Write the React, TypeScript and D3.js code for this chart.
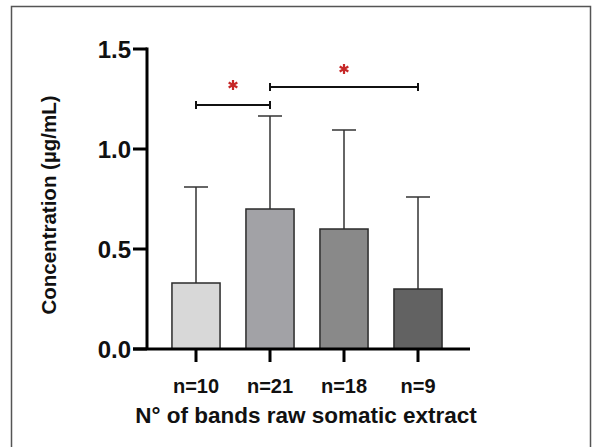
import React from 'react';
import * as d3 from 'd3';

// data
const groups = ['n=10', 'n=21', 'n=18', 'n=9'];
const means = [0.33, 0.70, 0.60, 0.30];
const upperSD = [0.81, 1.165, 1.095, 0.76];
const barFills = ['#d8d8d8', '#a2a2a6', '#898989', '#626262'];
const yTicks = [0, 0.5, 1.0, 1.5];
const bracketFrom = [0, 1];
const bracketTo = [1, 3];
const bracketLevel = [1.22, 1.31];
const starLevel = [1.32, 1.40];

const W = 592, H = 447;
const FONT = 'Liberation Sans, Arial, Helvetica, sans-serif';

const App = () => {
  // scales
  const x = d3.scaleBand<string>()
    .domain(groups)
    .range([159, 455])
    .paddingInner(0.35)
    .paddingOuter(0.175);
  const y = d3.scaleLinear().domain([0, 1.5]).range([349, 49]);

  const cx = (i: number) => (x(groups[i]) as number) + x.bandwidth() / 2;
  const capHalf = x.bandwidth() / 4;
  const star = d3.symbol().type(d3.symbolAsterisk).size(70)();

  return (
    <svg width={W} height={H} style={{ position: 'absolute', left: 0, top: 0, background: '#fff' }}>
      {/* frame */}
      <rect x={11.5} y={6.5} width={579} height={460} fill="none" stroke="#555" strokeWidth={1.5} />

      {/* error bars (drawn first so the bar covers the lower part) */}
      {groups.map((g, i) => (
        <g key={'err' + g} stroke="#333" strokeWidth={1.5}>
          <line x1={cx(i)} x2={cx(i)} y1={y(means[i])} y2={y(upperSD[i])} />
          <line x1={cx(i) - capHalf} x2={cx(i) + capHalf} y1={y(upperSD[i])} y2={y(upperSD[i])} />
        </g>
      ))}

      {/* bars */}
      {groups.map((g, i) => (
        <rect key={'bar' + g}
          x={x(g)}
          y={y(means[i])}
          width={x.bandwidth()}
          height={y(0) - y(means[i])}
          fill={barFills[i]}
          stroke="#2b2b2b"
          strokeWidth={1.5} />
      ))}

      {/* y axis */}
      <line x1={147} x2={147} y1={y(1.5) - 1.5} y2={y(0)} stroke="#000" strokeWidth={3} />
      {yTicks.map(t => (
        <g key={'yt' + t}>
          <line x1={133} x2={147} y1={y(t)} y2={y(t)} stroke="#000" strokeWidth={3} />
          <text x={131} y={y(t)} textAnchor="end" dominantBaseline="central"
            fontFamily={FONT} fontWeight="bold" fontSize={24} fill="#111">
            {d3.format('.1f')(t)}
          </text>
        </g>
      ))}

      {/* x axis */}
      <line x1={133} x2={470} y1={y(0)} y2={y(0)} stroke="#000" strokeWidth={3} />
      {groups.map((g, i) => (
        <g key={'xt' + g}>
          <line x1={cx(i)} x2={cx(i)} y1={y(0)} y2={y(0) + 13} stroke="#000" strokeWidth={3} />
          <text x={cx(i)} y={393} textAnchor="middle"
            fontFamily={FONT} fontWeight="bold" fontSize={20} fill="#111">
            {g}
          </text>
        </g>
      ))}

      {/* axis titles */}
      <text x={306} y={423} textAnchor="middle" fontFamily={FONT} fontWeight="bold" fontSize={22.5} fill="#111">
        N° of bands raw somatic extract
      </text>
      <text transform={`translate(56,${y(0.72)}) rotate(-90)`} textAnchor="middle"
        fontFamily={FONT} fontWeight="bold" fontSize={20.5} fill="#111">
        Concentration (µg/mL)
      </text>

      {/* significance brackets */}
      {bracketFrom.map((f, k) => {
        const x1 = cx(f), x2 = cx(bracketTo[k]), yy = y(bracketLevel[k]);
        return (
          <g key={'br' + k} stroke="#111" strokeWidth={2}>
            <line x1={x1} x2={x2} y1={yy} y2={yy} />
            <line x1={x1} x2={x1} y1={yy - 4} y2={yy + 4} />
            <line x1={x2} x2={x2} y1={yy - 4} y2={yy + 4} />
          </g>
        );
      })}
      {bracketFrom.map((f, k) => (
        <path key={'st' + k} d={star as string}
          transform={`translate(${(cx(f) + cx(bracketTo[k])) / 2},${y(starLevel[k])})`}
          fill="#c62828" stroke="#c62828" strokeWidth={2.2} />
      ))}
    </svg>
  );
};

export default App;
